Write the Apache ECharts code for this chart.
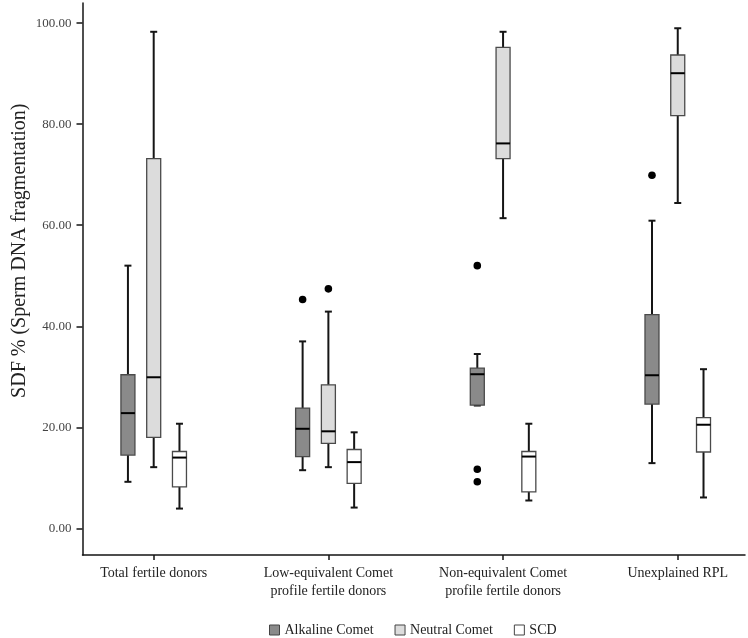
<!DOCTYPE html>
<html><head><meta charset="utf-8">
<script src="https://cdn.jsdelivr.net/npm/echarts@6/dist/echarts.min.js"></script>
<style>html,body{margin:0;padding:0;background:#fff}#c{width:748px;height:638px}</style>
</head><body><div id="c"></div>
<script>
const categories = ['Total fertile donors', 'Low-equivalent Comet\nprofile fertile donors', 'Non-equivalent Comet\nprofile fertile donors', 'Unexplained RPL'];
const categoryIndex = [0, 1, 2, 3];
const seriesNames = ['Alkaline Comet', 'Neutral Comet', 'SCD'];
// [min, Q1, median, Q3, max] per category
const alkalineBoxes = [[9.2, 14.5, 22.8, 30.4, 52.0], [11.5, 14.2, 19.7, 23.8, 37.0], [24.3, 24.4, 30.5, 31.7, 34.5], [12.9, 24.6, 30.3, 42.3, 60.9]];
const neutralBoxes = [[12.1, 18.0, 29.9, 73.2, 98.3], [12.1, 16.8, 19.2, 28.4, 42.9], [61.4, 73.2, 76.2, 95.2, 98.3], [64.4, 81.7, 90.1, 93.7, 99.0]];
const scdBoxes = [[3.9, 8.2, 14.0, 15.2, 20.7], [4.1, 8.9, 13.1, 15.6, 19.0], [5.5, 7.2, 14.2, 15.2, 20.7], [6.1, 15.1, 20.5, 21.9, 31.5]];
// outliers: [categoryIndex, value]
const alkalineOutliers = [[1, 45.3], [2, 52.0], [2, 11.7], [2, 9.2], [3, 69.9]];
const neutralOutliers = [[1, 47.4]];
const scdOutliers = [];
const yTicks = [0, 20, 40, 60, 80, 100];
const yTitle = 'SDF % (Sperm DNA fragmentation)';

const FONT = "'Liberation Serif', 'DejaVu Serif', serif";
const fills = ['#8a8a8a', '#dcdcdc', '#ffffff'];
const offsets = [-0.1475, 0, 0.1475];
const Y_MIN = -5.29, Y_MAX = 104;
const X_MIN = -0.4076, X_MAX = 3.385;

function boxRenderer(offFrac, fill) {
  return function (params, api) {
    const ci = api.value(0);
    const band = api.size([1, 0])[0];
    const x = api.coord([ci, 0])[0] + band * offFrac;
    const yv = [1, 2, 3, 4, 5].map(d => api.coord([ci, api.value(d)])[1]);
    const [yMin, yQ1, yMed, yQ3, yMax] = yv;
    const hw = 7, cap = 3.5;
    const ws = { stroke: '#151515', lineWidth: 2 };
    return {
      type: 'group', children: [
        { type: 'line', shape: { x1: x, y1: yMax, x2: x, y2: yQ3 }, style: ws },
        { type: 'line', shape: { x1: x, y1: yQ1, x2: x, y2: yMin }, style: ws },
        { type: 'line', shape: { x1: x - cap, y1: yMax, x2: x + cap, y2: yMax }, style: ws },
        { type: 'line', shape: { x1: x - cap, y1: yMin, x2: x + cap, y2: yMin }, style: ws },
        { type: 'rect', shape: { x: x - hw, y: yQ3, width: hw * 2, height: Math.max(yQ1 - yQ3, 1) }, style: { fill: fill, stroke: '#4a4a4a', lineWidth: 1.3 } },
        { type: 'line', shape: { x1: x - hw, y1: yMed, x2: x + hw, y2: yMed }, style: { stroke: '#000', lineWidth: 2 } }
      ]
    };
  };
}
function outlierRenderer(offFrac) {
  return function (params, api) {
    const ci = api.value(0);
    const band = api.size([1, 0])[0];
    const p = api.coord([ci, api.value(1)]);
    return { type: 'circle', shape: { cx: p[0] + band * offFrac, cy: p[1], r: 3.8 }, style: { fill: '#000' } };
  };
}

const boxSets = [alkalineBoxes, neutralBoxes, scdBoxes];
const outSets = [alkalineOutliers, neutralOutliers, scdOutliers];
const series = [];
boxSets.forEach((set, k) => {
  series.push({
    name: seriesNames[k], type: 'custom',
    itemStyle: { color: fills[k], borderColor: '#444', borderWidth: 1 },
    data: set.map((v, i) => [categoryIndex[i]].concat(v)),
    encode: { x: 0, y: [1, 2, 3, 4, 5] },
    renderItem: boxRenderer(offsets[k], fills[k])
  });
});
outSets.forEach((set, k) => {
  series.push({
    name: seriesNames[k] + ' outliers', type: 'custom',
    data: set, encode: { x: 0, y: 1 },
    renderItem: outlierRenderer(offsets[k])
  });
});

const chart = echarts.init(document.getElementById('c'), null, { renderer: 'canvas' });
chart.setOption({
  animation: false,
  backgroundColor: '#fff',
  grid: { left: 82.5, right: 3, top: 3, bottom: 83 },
  xAxis: {
    type: 'value', min: X_MIN, max: X_MAX,
    axisLine: { show: true, onZero: false, lineStyle: { color: '#151515', width: 1.5 } },
    axisTick: { show: true, customValues: categoryIndex, length: 5, lineStyle: { color: '#151515', width: 1.5 } },
    axisLabel: { customValues: categoryIndex, formatter: v => categories[Math.round(v)], margin: 9, fontFamily: FONT, fontSize: 14, lineHeight: 18, color: '#222' },
    splitLine: { show: false }
  },
  yAxis: {
    type: 'value', min: Y_MIN, max: Y_MAX,
    axisLine: { show: true, onZero: false, lineStyle: { color: '#151515', width: 1.5 } },
    axisTick: { show: true, customValues: yTicks, length: 6, lineStyle: { color: '#151515', width: 1.5 } },
    axisLabel: { customValues: yTicks, margin: 11, fontFamily: FONT, fontSize: 13, color: '#444', formatter: v => Number(v).toFixed(2) },
    splitLine: { show: false }
  },
  legend: {
    data: seriesNames, left: 264, top: 618, icon: 'rect', itemWidth: 10, itemHeight: 10, itemGap: 21,
    textStyle: { fontFamily: FONT, fontSize: 14, color: '#222' },
    itemStyle: { borderColor: '#444', borderWidth: 1 }
  },
  graphic: [{
    type: 'text', x: 19.6, y: 250.7, rotation: Math.PI / 2,
    style: { text: yTitle, fontFamily: FONT, fontSize: 20, fill: '#222', align: 'center', verticalAlign: 'middle' }
  }],
  series: series
});
</script></body></html>
